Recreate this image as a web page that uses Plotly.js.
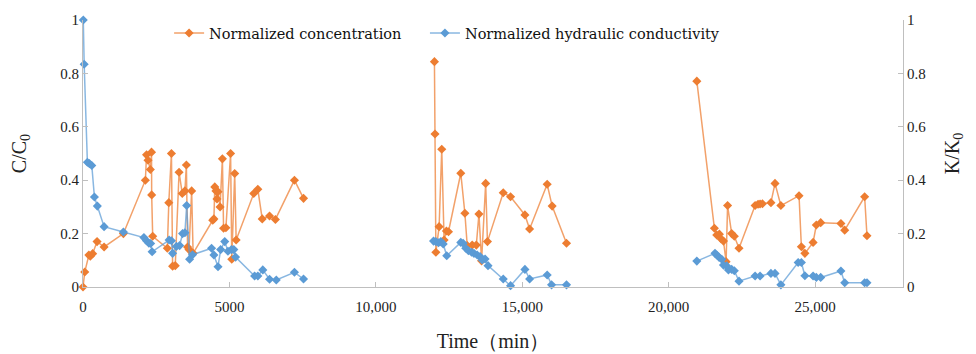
<!DOCTYPE html>
<html>
<head>
<meta charset="utf-8">
<script src="https://cdn.plot.ly/plotly-3.0.1.min.js"></script>
<style>
  html, body { margin: 0; padding: 0; background: #fff; }
  #chart { width: 976px; height: 354px; }
</style>
</head>
<body>
<div id="chart"></div>
<script>
// Normalized concentration C/C0, three test runs (time in min)
const concTime1 = [0, 60, 200, 250, 330, 480, 720, 1380, 2130, 2170, 2220, 2300, 2340, 2345, 2380,
  2880, 2930, 3020, 3060, 3150, 3280, 3390, 3480, 3530, 3570, 3620, 3710, 3760,
  4430, 4470, 4500, 4540, 4575, 4610, 4680, 4760, 4800, 4880, 5040, 5080, 5180, 5230,
  5830, 5970, 6120, 6370, 6570, 7220, 7530];
const concVal1 = [0, 0.056, 0.12, 0.115, 0.125, 0.17, 0.15, 0.2, 0.4, 0.495, 0.475, 0.44, 0.505, 0.345, 0.19,
  0.145, 0.316, 0.5, 0.078, 0.08, 0.43, 0.35, 0.36, 0.457, 0.15, 0.14, 0.36, 0.126,
  0.25, 0.255, 0.375, 0.36, 0.33, 0.357, 0.3, 0.48, 0.22, 0.222, 0.5, 0.104, 0.425, 0.176,
  0.35, 0.366, 0.255, 0.266, 0.253, 0.4, 0.332];
const concTime2 = [12000, 12020, 12050, 12160, 12250, 12330, 12410, 12480, 12900, 13040, 13120, 13290,
  13430, 13520, 13610, 13750, 13810, 14350, 14600, 15090, 15250, 15850, 16020, 16510];
const concVal2 = [0.844, 0.573, 0.13, 0.226, 0.516, 0.176, 0.21, 0.207, 0.426, 0.276, 0.155, 0.157,
  0.157, 0.273, 0.098, 0.388, 0.17, 0.353, 0.338, 0.27, 0.217, 0.385, 0.303, 0.164];
const concTime3 = [20960, 21560, 21640, 21730, 21790, 21870, 21960, 22010, 22150, 22240, 22400, 22950,
  23050, 23120, 23200, 23490, 23630, 23830, 24450, 24530, 24650, 24930, 25040, 25190, 25880, 26010,
  26690, 26770];
const concVal3 = [0.771, 0.22, 0.195, 0.198, 0.18, 0.172, 0.095, 0.305, 0.2, 0.19, 0.145, 0.305,
  0.31, 0.311, 0.312, 0.316, 0.388, 0.305, 0.342, 0.151, 0.126, 0.167, 0.232, 0.241, 0.238, 0.213,
  0.338, 0.192];

// Normalized hydraulic conductivity K/K0, same three runs
const condTime1 = [10, 40, 150, 220, 300, 390, 490, 720, 1380, 2080, 2170, 2250, 2310, 2360,
  2940, 3020, 3060, 3190, 3300, 3400, 3480, 3540, 3640, 3740,
  4390, 4470, 4610, 4700, 4840, 4950, 5070, 5150, 5210, 5860, 5970, 6140, 6370, 6600, 7220, 7530];
const condVal1 = [1.0, 0.834, 0.467, 0.462, 0.455, 0.337, 0.303, 0.226, 0.206, 0.185, 0.173, 0.164, 0.163, 0.132,
  0.176, 0.173, 0.126, 0.152, 0.155, 0.2, 0.203, 0.305, 0.104, 0.121,
  0.145, 0.12, 0.076, 0.14, 0.17, 0.134, 0.14, 0.14, 0.112, 0.041, 0.041, 0.064, 0.029, 0.026, 0.055, 0.03];
const condTime2 = [11970, 12050, 12140, 12220, 12300, 12420, 12900, 12980, 13070, 13160, 13270, 13350,
  13460, 13560, 13630, 13730, 13830, 14350, 14600, 15090, 15250, 15850, 16000, 16510];
const condVal2 = [0.172, 0.17, 0.166, 0.17, 0.161, 0.117, 0.167, 0.164, 0.145, 0.136, 0.13, 0.126,
  0.12, 0.114, 0.101, 0.105, 0.08, 0.03, 0.005, 0.066, 0.03, 0.045, 0.008, 0.008];
const condTime3 = [20960, 21580, 21640, 21720, 21810, 21870, 21980, 22040, 22150, 22240, 22400, 22950,
  23120, 23490, 23630, 23830, 24420, 24530, 24650, 24930, 25040, 25190, 25880, 26010, 26690, 26770];
const condVal3 = [0.097, 0.126, 0.12, 0.111, 0.104, 0.082, 0.079, 0.064, 0.066, 0.061, 0.022, 0.041,
  0.041, 0.051, 0.051, 0.008, 0.092, 0.092, 0.042, 0.041, 0.036, 0.036, 0.06, 0.016, 0.016, 0.016];

const xTickVals = [0, 5000, 10000, 15000, 20000, 25000];
const xTickText = ['0', '5000', '10,000', '15,000', '20,000', '25,000'];
const yTickVals = [0, 0.2, 0.4, 0.6, 0.8, 1];
const yTickText = ['0', '0.2', '0.4', '0.6', '0.8', '1'];

// join runs with a null so the line breaks between them
function joinRuns(...runs) {
  const out = [];
  runs.forEach((r, i) => { if (i > 0) out.push(null); out.push(...r); });
  return out;
}

const ORANGE = '#ED7D31';
const BLUE = '#5B9BD5';
const SERIF = '"DejaVu Serif", "Liberation Serif", serif';
const TITLEFONT = { family: '"Liberation Serif", serif', size: 20, color: '#222' };
const TICKFONT = { family: '"Liberation Serif", serif', size: 15, color: '#222' };

const conc = {
  name: 'Normalized concentration',
  x: joinRuns(concTime1, concTime2, concTime3),
  y: joinRuns(concVal1, concVal2, concVal3),
  mode: 'lines+markers',
  line: { color: 'rgba(237,125,49,0.72)', width: 1.5 },
  marker: { symbol: 'diamond', size: 7, color: ORANGE },
  connectgaps: false,
  cliponaxis: false,
  yaxis: 'y',
  legend: 'legend'
};
const cond = {
  name: 'Normalized hydraulic conductivity',
  x: joinRuns(condTime1, condTime2, condTime3),
  y: joinRuns(condVal1, condVal2, condVal3),
  mode: 'lines+markers',
  line: { color: 'rgba(91,155,213,0.72)', width: 1.5 },
  marker: { symbol: 'diamond', size: 7, color: BLUE },
  connectgaps: false,
  cliponaxis: false,
  yaxis: 'y2',
  legend: 'legend2'
};

const axisCommon = {
  showgrid: false, zeroline: false, showline: true,
  linecolor: '#BFBFBF', linewidth: 1,
  ticks: 'inside', ticklen: 5, tickcolor: '#BFBFBF',
  tickfont: TICKFONT
};

const legendCommon = {
  orientation: 'h', y: 0.951, xanchor: 'left', yanchor: 'middle',
  font: { family: SERIF, size: 14.5, color: '#111' },
  bgcolor: 'rgba(0,0,0,0)'
};

const layout = {
  width: 976, height: 354,
  margin: { l: 83, r: 73, t: 20, b: 67 },
  paper_bgcolor: '#fff', plot_bgcolor: '#fff',
  showlegend: true,
  legend: Object.assign({}, legendCommon, { x: 0.105 }),
  legend2: Object.assign({}, legendCommon, { x: 0.417 }),
  xaxis: Object.assign({}, axisCommon, {
    range: [0, 28000], tickvals: xTickVals, ticktext: xTickText,
    ticklabelstandoff: 6,
    title: { text: 'Time（min）', font: TITLEFONT, standoff: 19 }
  }),
  yaxis: Object.assign({}, axisCommon, {
    range: [0, 1], tickvals: yTickVals, ticktext: yTickText,
    title: { text: 'C/C<sub>0</sub>', font: TITLEFONT, standoff: 28 }
  }),
  yaxis2: Object.assign({}, axisCommon, {
    range: [0, 1], tickvals: yTickVals, ticktext: yTickText,
    overlaying: 'y', side: 'right',
    title: { text: 'K/K<sub>0</sub>', font: TITLEFONT, standoff: 19 }
  })
};

Plotly.newPlot('chart', [conc, cond], layout, { displayModeBar: false, staticPlot: true });
</script>
</body>
</html>
